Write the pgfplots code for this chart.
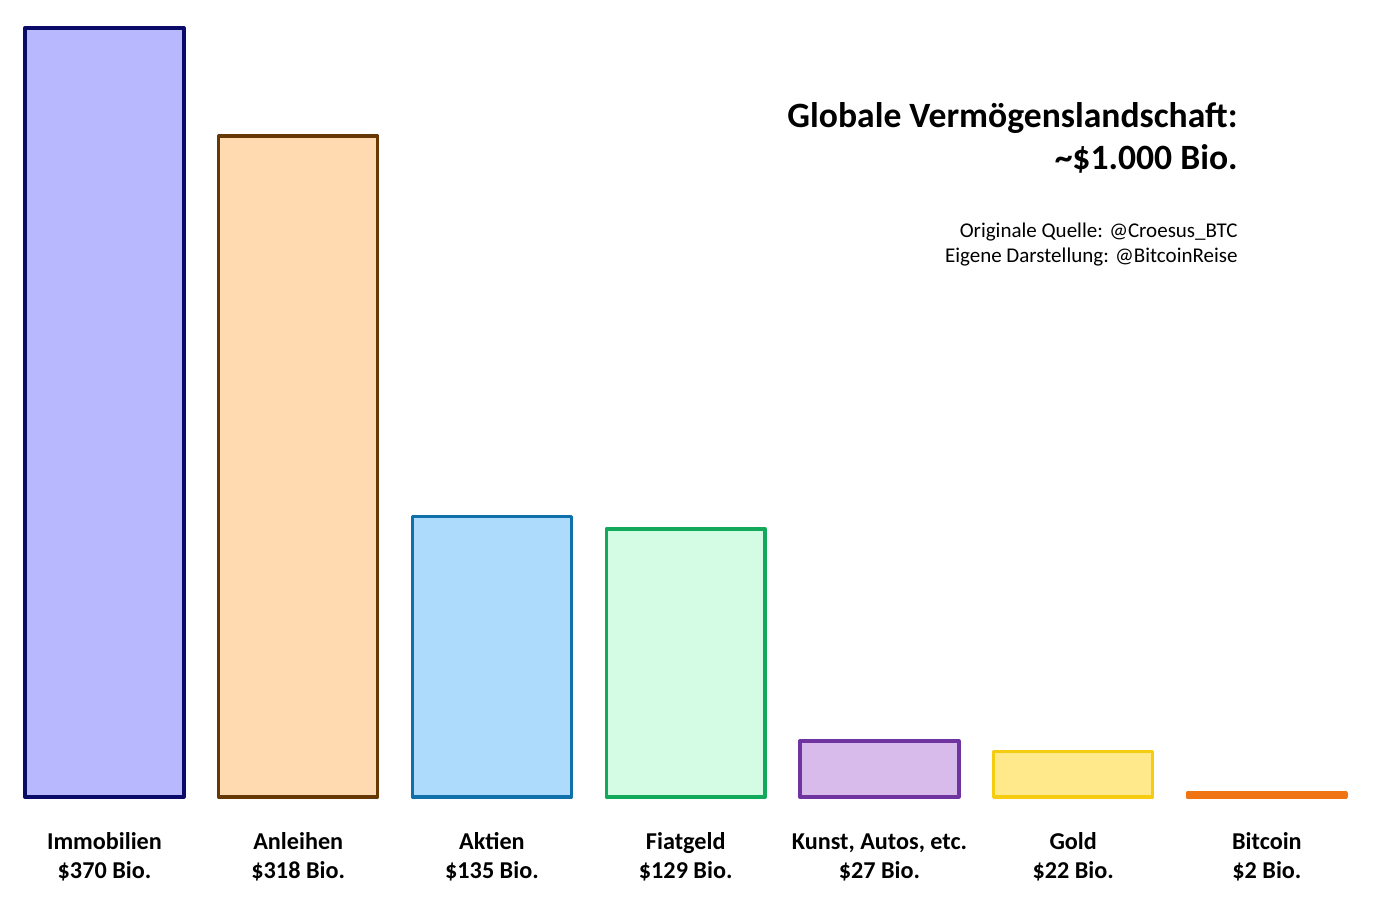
\documentclass[border=0pt]{standalone}
\usepackage{fontspec}
\setmainfont{Carlito}
\usepackage{pgfplots}
\pgfplotsset{compat=1.18}

\definecolor{immoF}{RGB}{184,184,255}
\definecolor{immoD}{RGB}{10,10,104}
\definecolor{anlF}{RGB}{255,217,176}
\definecolor{anlD}{RGB}{102,56,6}
\definecolor{aktF}{RGB}{173,219,252}
\definecolor{aktD}{RGB}{16,112,170}
\definecolor{fiatF}{RGB}{212,252,228}
\definecolor{fiatD}{RGB}{18,170,90}
\definecolor{kunstF}{RGB}{216,187,234}
\definecolor{kunstD}{RGB}{112,52,160}
\definecolor{goldF}{RGB}{255,233,138}
\definecolor{goldD}{RGB}{245,204,16}
\definecolor{btcF}{RGB}{240,116,20}

\begin{document}
\begin{tikzpicture}
\useasboundingbox (0,0) rectangle (688pt,455pt);
\begin{axis}[
    at={(3.8pt,56.5pt)}, anchor=south west,
    scale only axis,
    width=678.1pt, height=394.9pt,
    xmin=-0.5, xmax=6.5,
    ymin=0, ymax=380,
    axis line style={draw=none},
    major tick length=0pt,
    ytick=\empty,
    xtick={0,1,2,3,4,5,6},
    % \vphantom keeps every first line as tall as the ones with ascenders
    xticklabels={{\vphantom{lb}Immobilien\\\$370 Bio.},{\vphantom{lb}Anleihen\\\$318 Bio.},{\vphantom{lb}Aktien\\\$135 Bio.},{\vphantom{lb}Fiatgeld\\\$129 Bio.},{\vphantom{lb}Kunst, Autos, etc.\\\$27 Bio.},{\vphantom{lb}Gold\\\$22 Bio.},{\vphantom{lb}Bitcoin\\\$2 Bio.}},
    xticklabel style={anchor=north, align=center, font=\bfseries\fontsize{12.1}{14.5}\selectfont, yshift=-14pt},
    every axis plot/.append style={ybar, bar width=0.82, bar shift=0pt, line width=1.7pt, line join=round},
    clip=false,
]
\addplot[fill=immoF, draw=immoD] coordinates {(0,370)};
\addplot[fill=anlF, draw=anlD] coordinates {(1,318)};
\addplot[fill=aktF, draw=aktD] coordinates {(2,135)};
\addplot[fill=fiatF, draw=fiatD] coordinates {(3,129)};
\addplot[fill=kunstF, draw=kunstD] coordinates {(4,27)};
\addplot[fill=goldF, draw=goldD] coordinates {(5,22)};
\addplot[fill=btcF, draw=btcF] coordinates {(6,2)};
\end{axis}
\node[anchor=base east, font=\bfseries\fontsize{17.8}{20}\selectfont, inner sep=0pt] at (619pt,391pt) {Globale Vermögenslandschaft:};
\node[anchor=base east, font=\bfseries\fontsize{17.8}{20}\selectfont, inner sep=0pt] at (619pt,370pt) {\textasciitilde\$1.000 Bio.};
\node[anchor=base east, font=\fontsize{10.5}{12}\selectfont, inner sep=0pt] at (619pt,336pt) {Originale Quelle: @Croesus\_BTC};
\node[anchor=base east, font=\fontsize{10.5}{12}\selectfont, inner sep=0pt] at (619pt,323.5pt) {Eigene Darstellung: @BitcoinReise};
\end{tikzpicture}
\end{document}
